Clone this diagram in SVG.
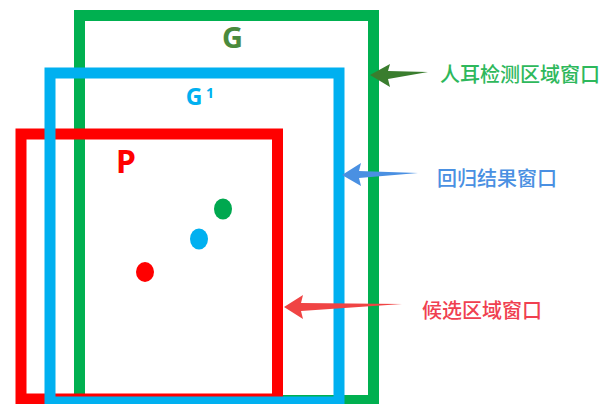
<svg xmlns="http://www.w3.org/2000/svg" width="607" height="404" viewBox="0 0 607 404">
<style>
.box{fill:none;stroke-width:11}
.lbl{font-family:"Noto Sans","Liberation Sans",sans-serif;font-weight:bold}
.cn{font-family:"Noto Sans CJK SC",sans-serif;font-size:20px;font-weight:500}
</style>
<rect width="607" height="404" fill="#ffffff"/>
<g id="G">
<rect class="box" x="79.5" y="15.5" width="294" height="385" stroke="#00b050"/>
<text class="lbl" x="232.5" y="48" font-size="29" fill="#4a8a3c" text-anchor="middle">G</text>
</g>
<g id="P">
<rect class="box" x="21" y="134" width="256.5" height="265" stroke="#ff0000"/>
<text class="lbl" x="126" y="173" font-size="32" fill="#ff0000" text-anchor="middle">P</text>
</g>
<g id="G1">
<rect class="box" x="50" y="73" width="289" height="329" stroke="#00b0f0"/>
<text class="lbl" x="194" y="105" font-size="23" fill="#00b0f0" text-anchor="middle">G</text>
<text class="lbl" x="210" y="98" font-size="14" fill="#00b0f0" text-anchor="middle">1</text>
</g>
<g id="dots">
<ellipse cx="223" cy="209" rx="9" ry="10.5" fill="#00a84f"/>
<ellipse cx="199" cy="239" rx="9" ry="10.5" fill="#00b0f0"/>
<ellipse cx="145" cy="272" rx="9" ry="10" fill="#ff0000"/>
</g>
<g id="connectors">
<polygon points="370,75 390,64 388,71 428,72 388,79 390,87" fill="#3a7d2e"/>
<polygon points="342,175 361,163 359,171 418,173 359,178 361,186" fill="#4a90e2"/>
<polygon points="284,307 303,295 301,303 402,304 301,311 303,319" fill="#f04444"/>
</g>
<g id="labels">
<text class="cn" x="440" y="82" fill="#2eb85c">人耳检测区域窗口</text>
<text class="cn" x="437" y="186" fill="#4a90e2">回归结果窗口</text>
<text class="cn" x="422" y="318" fill="#f04050">候选区域窗口</text>
</g>
</svg>
